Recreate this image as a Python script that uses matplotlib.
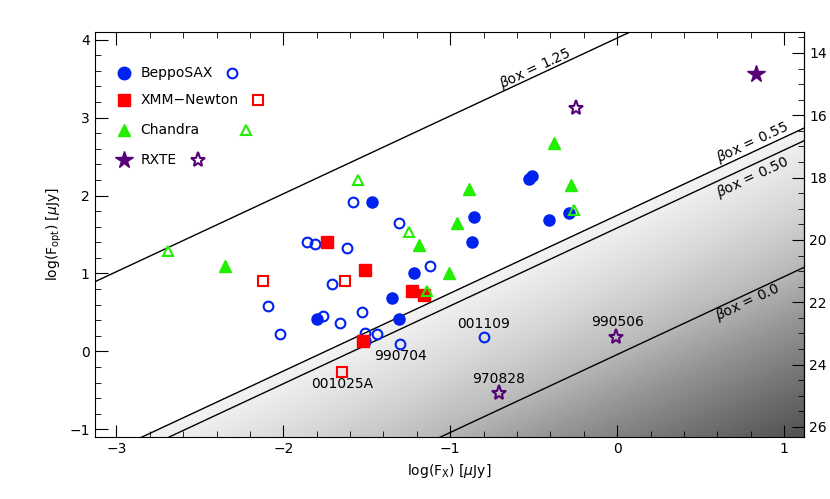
import numpy as np
import matplotlib.pyplot as plt
from matplotlib.patches import Polygon

# data (log Fx, log Fopt)
sax_x = [-1.47, -0.86, -0.87, -1.22, -1.35, -1.80, -1.31, -1.51, -0.53, -0.51, -0.41, -0.29]
sax_y = [1.92, 1.73, 1.41, 1.01, 0.69, 0.42, 0.42, 0.14, 2.21, 2.25, 1.69, 1.77]
sax_ox = [-1.58, -1.86, -1.81, -1.62, -1.31, -1.12, -1.71, -2.09, -2.02, -1.76, -1.66, -1.53, -1.51, -1.44, -1.30, -0.80]
sax_oy = [1.92, 1.41, 1.38, 1.33, 1.65, 1.09, 0.86, 0.58, 0.22, 0.46, 0.37, 0.50, 0.23, 0.22, 0.10, 0.18]
xmm_x = [-1.74, -1.51, -1.23, -1.16, -1.52]
xmm_y = [1.41, 1.05, 0.78, 0.73, 0.14]
xmm_ox = [-2.12, -1.63, -1.65]
xmm_oy = [0.90, 0.90, -0.26]
cha_x = [-2.35, -1.19, -0.96, -1.01, -0.89, -0.38, -0.28]
cha_y = [1.09, 1.37, 1.65, 1.01, 2.08, 2.68, 2.13]
cha_ox = [-2.69, -1.55, -1.25, -1.14, -0.26]
cha_oy = [1.29, 2.20, 1.53, 0.77, 1.81]
rxte_x = [0.83]
rxte_y = [3.56]
rxte_ox = [-0.25, -0.01, -0.71]
rxte_oy = [3.13, 0.18, -0.54]

grb_names = ['001109', '990704', '001025A', '970828', '990506']
grb_lx = [-0.80, -1.30, -1.65, -0.71, 0.00]
grb_ly = [0.35, -0.06, -0.42, -0.35, 0.38]

betas = [1.25, 0.55, 0.50, 0.0]
beta_labels = ['1.25', '0.55', '0.50', '0.0']
beta_lx = [-0.49, 0.81, 0.81, 0.78]
beta_ly = [3.63, 2.68, 2.23, 0.63]

def offset(b):
    return 3.25 * b - 0.04

xlim = (-3.13, 1.12)
ylim = (-1.1, 4.1)

fig = plt.figure(figsize=(8.3, 4.99), dpi=100)
ax = fig.add_axes([0.114, 0.124, 0.855, 0.812])
ax.set_xlim(xlim)
ax.set_ylim(ylim)

# grey gradient below beta=0.55 line
gx, gy = np.meshgrid(np.linspace(*xlim, 300), np.linspace(*ylim, 300))
d = (gx - gy + offset(0.55)) / 5.2
img = ax.imshow(np.clip(d, 0, 1), extent=(*xlim, *ylim), origin='lower', cmap='Greys',
                vmin=-0.12, vmax=1.05, aspect='auto', zorder=0)
xs = np.array(xlim)
poly = Polygon([(xlim[0], xlim[0] + offset(0.55)), (xlim[1], xlim[1] + offset(0.55)),
                (xlim[1], ylim[0]), (xlim[0], ylim[0])], transform=ax.transData)
img.set_clip_path(poly)

for b, lab, lx, ly in zip(betas, beta_labels, beta_lx, beta_ly):
    ax.plot(xs, xs + offset(b), color='black', lw=1, zorder=1)
    ax.text(lx, ly, r'$\beta$ox = ' + lab, rotation=25, ha='center', va='center', fontsize=10)

ms = 8
ax.plot(sax_x, sax_y, 'o', color='#0022ee', ms=ms, zorder=3)
ax.plot(sax_ox, sax_oy, 'o', mfc='none', mec='#0022ee', mew=1.5, ms=7, zorder=3)
ax.plot(xmm_x, xmm_y, 's', color='red', ms=ms, zorder=3)
ax.plot(xmm_ox, xmm_oy, 's', mfc='none', mec='red', mew=1.5, ms=7, zorder=3)
ax.plot(cha_x, cha_y, '^', color='#22ee00', ms=ms, zorder=3)
ax.plot(cha_ox, cha_oy, '^', mfc='none', mec='#22ee00', mew=1.5, ms=7, zorder=3)
ax.plot(rxte_x, rxte_y, '*', color='#550077', ms=13, zorder=3)
ax.plot(rxte_ox, rxte_oy, '*', mfc='none', mec='#550077', mew=1.5, ms=11, zorder=3)

for n, lx, ly in zip(grb_names, grb_lx, grb_ly):
    ax.text(lx, ly, n, ha='center', va='center', fontsize=10)

# legend drawn by hand
leg = [('BeppoSAX', 'o', '#0022ee', 0.193, 9), ('XMM\u2212Newton', 's', 'red', 0.230, 9),
       ('Chandra', '^', '#22ee00', 0.214, 9), ('RXTE', '*', '#550077', 0.145, 13)]
leg_y = [0.899, 0.832, 0.758, 0.684]
for (name, m, c, ox, s), yy in zip(leg, leg_y):
    ax.plot(0.041, yy, m, color=c, ms=s, transform=ax.transAxes)
    ax.text(0.065, yy, name, va='center', fontsize=10, transform=ax.transAxes)
    ax.plot(ox, yy, m, mfc='none', mec=c, mew=1.5, ms=s - 2, transform=ax.transAxes)

ax.set_xlabel(r'log(F$_{\rm X}$) [$\mu$Jy]', fontsize=10)
ax.set_ylabel(r'log(F$_{\rm opt}$) [$\mu$Jy]', fontsize=10)
ax.set_xticks([-3, -2, -1, 0, 1])
ax.set_xticks(np.arange(-3, 1.2, 0.2), minor=True)
ax.set_yticks([-1, 0, 1, 2, 3, 4])
ax.set_yticks(np.arange(-1, 4.2, 0.2), minor=True)
ax.set_xticklabels(['\u22123', '\u22122', '\u22121', '0', '1'])
ax.set_yticklabels(['\u22121', '0', '1', '2', '3', '4'])
ax.tick_params(which='both', direction='in', top=True, labelsize=10)
ax.tick_params(which='major', length=9)
ax.tick_params(which='minor', length=4)

sec = ax.secondary_yaxis('right', functions=(lambda f: 14 + (3.83 - f) / 0.4,
                                             lambda m: 3.83 - 0.4 * (m - 14)))
sec.set_yticks([14, 16, 18, 20, 22, 24, 26])
sec.set_yticks(np.arange(13.5, 27, 0.5), minor=True)
sec.tick_params(which='both', direction='in', labelsize=10)
sec.tick_params(which='major', length=9)
sec.tick_params(which='minor', length=4)

fig.savefig('out.png', dpi=100)
